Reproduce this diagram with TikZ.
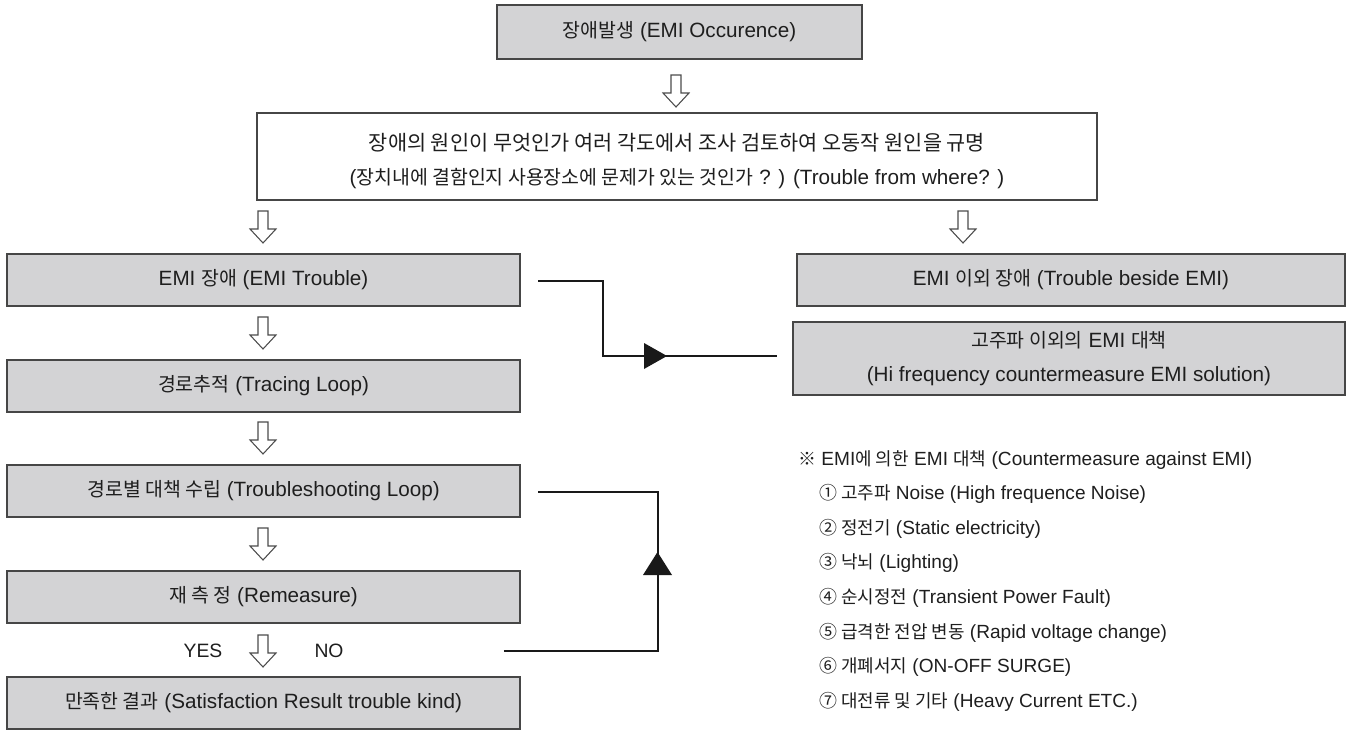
\documentclass[tikz,border=0pt]{standalone}
\usepackage{fontspec}
\setmainfont{Liberation Sans}
\newfontfamily\krfont[Scale=0.94]{Noto Sans CJK KR}
\newcommand\ko[1]{{\krfont #1}}
\usetikzlibrary{calc}
\definecolor{boxfill}{RGB}{211,211,213}
\definecolor{boxline}{RGB}{70,70,70}
\definecolor{txt}{RGB}{30,30,30}
\definecolor{lnk}{RGB}{25,25,25}
\begin{document}
\begin{tikzpicture}[x=0.75pt,y=-0.75pt,
  every node/.style={font=\fontsize{15.5}{18}\selectfont, text=txt},
  gbox/.style={draw=boxline, line width=1.5pt, fill=boxfill, inner sep=0pt, align=center},
  wbox/.style={draw=boxline, line width=1.5pt, fill=white, inner sep=0pt, align=center,
    font=\fontsize{15.5}{25.5}\selectfont},
  hollow/.style={draw=black!70, line width=0.8pt, fill=white, line join=miter},
  conn/.style={line width=1.7pt, draw=lnk},
  tri/.style={fill=lnk, draw=none},
  item/.style={inner sep=0pt, anchor=base west, font=\fontsize{14.3}{17}\selectfont},
  lbl/.style={inner sep=0pt, font=\fontsize{14.5}{17}\selectfont},
  harrow/.pic={\draw[hollow] (-5,0) -- (-5,18) -- (-13,18) -- (0,32) -- (13,18) -- (5,18) -- (5,0) -- cycle;}
]
\useasboundingbox (0,0) rectangle (1354,731);

% boxes
\node[gbox, minimum width=273.75pt, minimum height=40.5pt] (top) at (679.5,32) {\ko{장애발생} (EMI Occurence)};
\node[wbox, minimum width=630pt, minimum height=65.25pt] (big) at (677,156.5)
  {\rule{0pt}{20pt}{\fontsize{16.6}{25.5}\selectfont\krfont 장애의 원인이 무엇인가 여러 각도에서 조사 검토하여 오동작 원인을 규명}\\
   (\ko{장치내에 결함인지 사용장소에 문제가 있는 것인가} ? ) (Trouble from where? )};

\node[gbox, minimum width=384.75pt, minimum height=39pt] (emi) at (263.5,280) {EMI \ko{장애} (EMI Trouble)};
\node[gbox, minimum width=384.75pt, minimum height=39pt] (trace) at (263.5,386) {\ko{경로추적} (Tracing Loop)};
\node[gbox, minimum width=384.75pt, minimum height=39pt] (tshoot) at (263.5,491) {\ko{경로별 대책 수립} (Troubleshooting Loop)};
\node[gbox, minimum width=384.75pt, minimum height=39pt] (remeas) at (263.5,597) {\ko{재 측 정} (Remeasure)};
\node[gbox, minimum width=384.75pt, minimum height=39pt] (satis) at (263.5,703) {\ko{만족한 결과} (Satisfaction Result trouble kind)};

\node[gbox, minimum width=411pt, minimum height=39pt] (beside) at (1071,280) {EMI \ko{이외 장애} (Trouble beside EMI)};
\node[gbox, minimum width=414pt, minimum height=54.75pt, font=\fontsize{15.5}{25.5}\selectfont] (hifreq) at (1069,358.5)
  {\ko{고주파 이외의} EMI \ko{대책}\\(Hi frequency countermeasure EMI solution)};

% hollow arrows
\pic at (676,75) {harrow};
\pic at (263,211) {harrow};
\pic at (963,211) {harrow};
\pic at (263,317) {harrow};
\pic at (263,422) {harrow};
\pic at (263,528) {harrow};
\pic at (263,635) {harrow};

% YES / NO
\node[lbl] (yes) at (203,651) {YES};
\node[lbl] (no) at (329,651) {NO};

% connector 1: EMI trouble -> hi frequency countermeasure
\coordinate (a1) at ($(emi.east)+(17,1)$);
\coordinate (a2) at ($(hifreq.west)+(-15,-2.5)$);
\draw[conn] (a1) -- ++(65,0) |- (a2);
\fill[tri] (644,343) -- (667,356) -- (644,369) -- cycle;

% connector 2: NO -> troubleshooting loop
\coordinate (b1) at ($(no.east)+(160,0)$);
\coordinate (b2) at ($(tshoot.east)+(17,1)$);
\draw[conn] (b1) -- ++(154,0) |- (b2);
\fill[tri] (643,575) -- (657.5,552) -- (672,575) -- cycle;

% list
\node[item] (l0) at (798,465) {\ko{※} EMI\ko{에 의한} EMI \ko{대책} (Countermeasure against EMI)};
\node[item] (l1) at (819,499.6) {\ko{① 고주파} Noise (High frequence Noise)};
\node[item] (l2) at (819,534.2) {\ko{② 정전기} (Static electricity)};
\node[item] (l3) at (819,568.8) {\ko{③ 낙뇌} (Lighting)};
\node[item] (l4) at (819,603.4) {\ko{④ 순시정전} (Transient Power Fault)};
\node[item] (l5) at (819,638) {\ko{⑤ 급격한 전압 변동} (Rapid voltage change)};
\node[item] (l6) at (819,672.6) {\ko{⑥ 개폐서지} (ON-OFF SURGE)};
\node[item] (l7) at (819,707.2) {\ko{⑦ 대전류 및 기타} (Heavy Current ETC.)};
\end{tikzpicture}
\end{document}
